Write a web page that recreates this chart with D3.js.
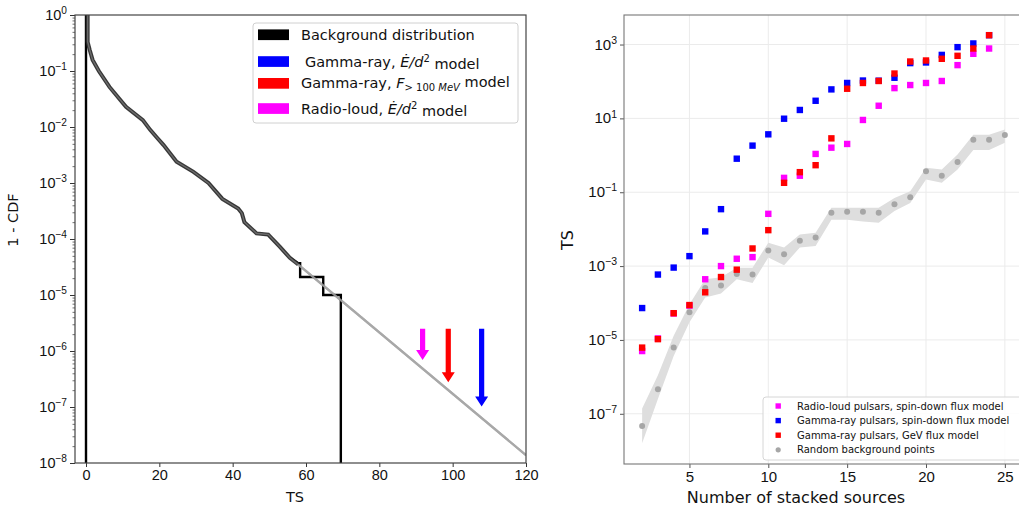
<!DOCTYPE html>
<html>
<head>
<meta charset="utf-8">
<script src="https://cdn.jsdelivr.net/npm/d3@7"></script>
<style>
body{margin:0;background:#fff}
svg{font-family:"DejaVu Sans",sans-serif}
</style>
</head>
<body>
<svg id="chart" width="1019" height="508"></svg>
<script>
// ---- left panel data: 1 - CDF of background TS
var bgTS  = [0, 0.45, 0.45, 1.0, 1.8, 3.5, 6.4, 10.9, 15.5, 17.5, 19.5, 21.1, 24.7, 29.3, 33.4, 37.2, 41.5, 42.5, 43.2, 46.5, 49.7, 52.9, 55.6, 57.9, 58.4, 58.4, 64.7, 64.7, 69.5, 69.5];
var bgVal = [1, 1, 0.33, 0.24, 0.158, 0.1, 0.052, 0.023, 0.0133, 0.0089, 0.0063, 0.0048, 0.0024, 0.00158, 0.001, 0.00052, 0.00035, 0.00029, 0.0002, 0.000126, 0.00012, 7.2e-5, 4.6e-5, 3.7e-5, 3.7e-5, 2.1e-5, 2.1e-5, 1.0e-5, 1.0e-5, 1e-8];
// gray curve / exponential tail
var fitTS  = [0.45, 0.45, 1.0, 1.8, 3.5, 6.4, 10.9, 15.5, 17.5, 19.5, 21.1, 24.7, 29.3, 33.4, 37.2, 41.5, 42.5, 43.2, 46.5, 49.7, 52.9, 55.6, 57.9, 120];
var fitVal = [1, 0.33, 0.24, 0.158, 0.1, 0.052, 0.023, 0.0133, 0.0089, 0.0063, 0.0048, 0.0024, 0.00158, 0.001, 0.00052, 0.00035, 0.00029, 0.0002, 0.000126, 0.00012, 7.2e-5, 4.6e-5, 3.5e-5, 1.38e-8];
var tailStart = 57.9;
// upper-limit arrows
var arrowTS  = [91.8, 98.8, 107.9];
var arrowTop = [2.5e-6, 2.5e-6, 2.5e-6];
var arrowTip = [6.9e-7, 2.76e-7, 1.02e-7];
var arrowCol = ["#ff00ff", "#ff0000", "#0000ff"];
var leftXTicks = [0, 20, 40, 60, 80, 100, 120];
var leftYExp = [0, -1, -2, -3, -4, -5, -6, -7, -8];

// ---- right panel data: TS vs number of stacked sources
var nPuls = [2,3,4,5,6,7,8,9,10,11,12,13,14,15,16,17,18,19,20,21,22,23,24];
var radioSD = [5.0e-6, 1.1e-5, 5.2e-5, 8.5e-5, 4.4e-4, 1.0e-3, 1.58e-3, 1.75e-3, 0.026, 0.245, 0.28, 1.09, 1.61, 2.03, 9.06, 22, 66, 80, 91, 103, 277, 561, 780];
var gammaSD = [7.3e-5, 5.9e-4, 9.1e-4, 1.86e-3, 8.7e-3, 0.0348, 0.81, 1.83, 3.7, 9.8, 16.9, 30, 61, 91, 106, 105, 126, 314, 327, 524, 850, 1070, 1790];
var gammaGeV = [6.2e-6, 1.05e-5, 5.3e-5, 8.8e-5, 1.95e-4, 5.05e-4, 8.0e-4, 3.0e-3, 9.4e-3, 0.18, 0.35, 0.54, 2.88, 63.5, 91, 103, 164, 347, 370, 411, 495, 780, 1795];
var nRand = [2,3,4,5,6,7,8,9,10,11,12,13,14,15,16,17,18,19,20,21,22,23,24,25];
var randTS = [4.7e-8, 4.6e-7, 6.2e-6, 5.6e-5, 2.54e-4, 3.0e-4, 6.1e-4, 5.9e-4, 2.65e-3, 2.1e-3, 4.85e-3, 5.96e-3, 0.0277, 0.0295, 0.0295, 0.0277, 0.0474, 0.073, 0.37, 0.28, 0.66, 2.65, 2.65, 3.56];
var randHi = [1.4e-7, 1.1e-6, 1.3e-5, 9.3e-5, 4.4e-4, 5e-4, 9e-4, 9e-4, 4.3e-3, 3.2e-3, 7.2e-3, 8e-3, 0.038, 0.038, 0.038, 0.038, 0.07, 0.107, 0.46, 0.41, 1.05, 3.6, 3.6, 5.0];
var randLo = [1.6e-8, 2.5e-7, 3.7e-6, 3e-5, 1.4e-4, 1.8e-4, 4.4e-4, 3.5e-4, 1.7e-3, 1.05e-3, 3.2e-3, 3.5e-3, 0.018, 0.018, 0.016, 0.015, 0.031, 0.051, 0.22, 0.18, 0.41, 1.4, 1.4, 2.2];
var rightXTicks = [5, 10, 15, 20, 25];
var rightYExp = [3, 1, -1, -3, -5, -7];

var svg = d3.select("#chart");

function supLabel(sel, exps, fs){
    sel.selectAll("text").each(function(d, i){
        var t = d3.select(this).text("");
        t.append("tspan").text("10").style("font-size", fs + "px");
        t.append("tspan").attr("dy", "-0.55em").style("font-size", (fs*0.7) + "px")
            .text(String(exps[i]).replace("-", "\u2212"));
    });
}

// ================= LEFT PANEL =================
var xL = d3.scaleLinear().domain([-3, 120]).range([75, 526]);
var yL = d3.scaleLog().domain([1e-8, 1]).range([463, 15]);

var minorL = [];
for (var e = -8; e < 0; e++) for (var k = 2; k < 10; k++) minorL.push(k * Math.pow(10, e));

var gL = svg.append("g");
gL.append("defs").append("clipPath").attr("id", "clipL")
  .append("rect").attr("x", 75).attr("y", 15).attr("width", 451).attr("height", 448);
var plotL = gL.append("g").attr("clip-path", "url(#clipL)");

var lineBg = d3.line().x(function(d){return xL(d[0])}).y(function(d){return yL(d[1])});
var fitPts = fitTS.map(function(t, i){return [t, fitVal[i]]});

// light gray extrapolated tail (under the histogram)
plotL.append("path").datum(fitPts.filter(function(d){return d[0] >= tailStart}))
  .attr("d", lineBg).attr("fill", "none").attr("stroke", "#a8a8a8").attr("stroke-width", 2.2);
// black step distribution
plotL.append("path").datum(bgTS.map(function(t, i){return [t, bgVal[i]]}))
  .attr("d", lineBg).attr("fill", "none").attr("stroke", "#000").attr("stroke-width", 2.4);
// vertical edge at TS=0
plotL.append("line").attr("x1", xL(0)).attr("x2", xL(0)).attr("y1", yL(1)).attr("y2", yL(1e-8))
  .attr("stroke", "#000").attr("stroke-width", 2.4);
// gray curve on top of the dense part
plotL.append("path").datum(fitPts.filter(function(d){return d[0] <= tailStart}))
  .attr("d", lineBg).attr("fill", "none").attr("stroke", "#2a2a2a").attr("stroke-width", 4).attr("stroke-opacity", 0.9);
plotL.append("path").datum(fitPts.filter(function(d){return d[0] <= tailStart}))
  .attr("d", lineBg).attr("fill", "none").attr("stroke", "#6a6a6a").attr("stroke-width", 1.6);
// tail continuation over the step histogram
plotL.append("path").datum(fitPts.filter(function(d){return d[0] >= tailStart}))
  .attr("d", lineBg).attr("fill", "none").attr("stroke", "#a8a8a8").attr("stroke-width", 2.2).attr("stroke-opacity", 0.85);

// arrows
arrowTS.forEach(function(t, i){
    var x = xL(t), y0 = yL(arrowTop[i]), y1 = yL(arrowTip[i]);
    var hw = 6.5, hl = 10, sw = 2.6;
    plotL.append("path")
      .attr("d", "M" + (x - sw) + "," + y0 + "L" + (x + sw) + "," + y0 + "L" + (x + sw) + "," + (y1 - hl) +
                 "L" + (x + hw) + "," + (y1 - hl) + "L" + x + "," + y1 + "L" + (x - hw) + "," + (y1 - hl) +
                 "L" + (x - sw) + "," + (y1 - hl) + "Z")
      .attr("fill", arrowCol[i]);
});

// axes
gL.append("g").attr("transform", "translate(0,463)")
  .call(d3.axisBottom(xL).tickValues(leftXTicks).tickSize(4).tickPadding(3).tickSizeOuter(0))
  .call(function(g){ g.select(".domain").remove(); g.selectAll("line").attr("stroke", "#333"); })
  .selectAll("text").style("font-size", "14.5px").attr("fill", "#111");
gL.append("g").attr("transform", "translate(75,0)")
  .call(d3.axisLeft(yL).tickValues(minorL).tickSize(2.5).tickFormat(""))
  .call(function(g){ g.select(".domain").remove(); g.selectAll("line").attr("stroke", "#333").attr("stroke-width", 0.7); });
gL.append("g").attr("transform", "translate(75,0)")
  .call(d3.axisLeft(yL).tickValues(leftYExp.map(function(e){return Math.pow(10, e)})).tickSize(5).tickPadding(3))
  .call(function(g){ g.select(".domain").remove(); g.selectAll("line").attr("stroke", "#333"); g.selectAll("text").attr("fill", "#111").attr("dy", "0.45em"); })
  .call(function(g){ supLabel(g, leftYExp, 14.5); });

gL.append("rect").attr("x", 75).attr("y", 15).attr("width", 451).attr("height", 448)
  .attr("fill", "none").attr("stroke", "#444").attr("stroke-width", 1.2);

gL.append("text").attr("x", xL(57)).attr("y", 502).attr("text-anchor", "middle")
  .style("font-size", "14.5px").attr("fill", "#111").text("TS");
gL.append("text").attr("transform", "translate(18,220) rotate(-90)").attr("text-anchor", "middle")
  .style("font-size", "14.5px").attr("fill", "#111").text("1 - CDF");

// left legend
var legL = gL.append("g");
legL.append("rect").attr("x", 253).attr("y", 23).attr("width", 265).attr("height", 100).attr("rx", 3)
  .attr("fill", "#fff").attr("stroke", "#d0d0d0").attr("stroke-width", 1);
var legRowsY = [34.7, 61.5, 83.3, 108.5];
var legCols = ["#000", "#0000ff", "#ff0000", "#ff00ff"];
legCols.forEach(function(c, i){
    legL.append("rect").attr("x", 258).attr("y", legRowsY[i] - 5.3).attr("width", 31).attr("height", 10.7).attr("fill", c);
});
function legText(y){ return legL.append("text").attr("x", 301).attr("y", y + 5).style("font-size", "14.5px").attr("fill", "#111"); }
legText(legRowsY[0]).text("Background distribution");
var t1 = legText(legRowsY[1]).attr("x", 305);
t1.append("tspan").text("Gamma-ray, ");
t1.append("tspan").style("font-style", "italic").text("\u0116/d");
t1.append("tspan").attr("dy", "-0.5em").style("font-size", "10px").text("2");
t1.append("tspan").attr("dy", "0.5em").text(" model");
var t2 = legText(legRowsY[2]);
t2.append("tspan").text("Gamma-ray, ");
t2.append("tspan").style("font-style", "italic").text("F");
t2.append("tspan").attr("dy", "0.3em").style("font-size", "10px").text("> 100 ");
t2.append("tspan").style("font-size", "10px").style("font-style", "italic").text("MeV");
t2.append("tspan").attr("dy", "-0.3em").text(" model");
var t3 = legText(legRowsY[3]);
t3.append("tspan").text("Radio-loud, ");
t3.append("tspan").style("font-style", "italic").text("\u0116/d");
t3.append("tspan").attr("dy", "-0.5em").style("font-size", "10px").text("2");
t3.append("tspan").attr("dy", "0.5em").text(" model");

// ================= RIGHT PANEL =================
var xR = d3.scaleLinear().domain([0.85, 26.15]).range([624, 1023]);
var yR = d3.scaleLog().domain([Math.pow(10, -8.36), Math.pow(10, 3.80)]).range([464, 15]);

var gR = svg.append("g");
gR.append("defs").append("clipPath").attr("id", "clipR")
  .append("rect").attr("x", 624).attr("y", 15).attr("width", 399).attr("height", 449);
var plotR = gR.append("g").attr("clip-path", "url(#clipR)");

// grid
rightXTicks.forEach(function(v){
    plotR.append("line").attr("x1", xR(v)).attr("x2", xR(v)).attr("y1", 15).attr("y2", 464)
      .attr("stroke", "#ebebeb").attr("stroke-width", 1);
});
rightYExp.forEach(function(e){
    plotR.append("line").attr("x1", 624).attr("x2", 1023).attr("y1", yR(Math.pow(10, e))).attr("y2", yR(Math.pow(10, e)))
      .attr("stroke", "#ebebeb").attr("stroke-width", 1);
});

// band
var band = d3.area().x(function(d, i){return xR(nRand[i])})
  .y0(function(d, i){return yR(randLo[i])}).y1(function(d, i){return yR(randHi[i])});
plotR.append("path").datum(randTS).attr("d", band).attr("fill", "#dedede");

plotR.selectAll("circle.rand").data(randTS).join("circle").attr("class", "rand")
  .attr("cx", function(d, i){return xR(nRand[i])}).attr("cy", function(d){return yR(d)})
  .attr("r", 3).attr("fill", "#a6a6a6");

function squares(vals, col){
    plotR.append("g").selectAll("rect").data(vals).join("rect")
      .attr("x", function(d, i){return xR(nPuls[i]) - 3.2}).attr("y", function(d){return yR(d) - 3.2})
      .attr("width", 6.4).attr("height", 6.4).attr("fill", col);
}
squares(radioSD, "#ff00ff");
squares(gammaSD, "#0000ff");
squares(gammaGeV, "#ff0000");

// axes
gR.append("g").attr("transform", "translate(0,464)")
  .call(d3.axisBottom(xR).tickValues(rightXTicks).tickSize(4).tickPadding(3).tickSizeOuter(0))
  .call(function(g){ g.select(".domain").remove(); g.selectAll("line").attr("stroke", "#555"); })
  .selectAll("text").style("font-size", "15px").attr("fill", "#111");
gR.append("g").attr("transform", "translate(624,0)")
  .call(d3.axisLeft(yR).tickValues(rightYExp.map(function(e){return Math.pow(10, e)})).tickSize(4).tickPadding(3))
  .call(function(g){ g.select(".domain").remove(); g.selectAll("line").attr("stroke", "#555"); g.selectAll("text").attr("fill", "#111").attr("dy", "0.45em"); })
  .call(function(g){ supLabel(g, rightYExp, 15); });

gR.append("rect").attr("x", 624).attr("y", 15).attr("width", 399).attr("height", 449)
  .attr("fill", "none").attr("stroke", "#777").attr("stroke-width", 1.1);

gR.append("text").attr("x", 796).attr("y", 503).attr("text-anchor", "middle")
  .style("font-size", "16px").attr("fill", "#111").text("Number of stacked sources");
gR.append("text").attr("transform", "translate(573,240) rotate(-90)").attr("text-anchor", "middle")
  .style("font-size", "16px").attr("fill", "#111").text("TS");

// right legend
var legR = gR.append("g");
legR.append("rect").attr("x", 763).attr("y", 397).attr("width", 262).attr("height", 63).attr("rx", 3)
  .attr("fill", "#fff").attr("fill-opacity", 0.85).attr("stroke", "#d6d6d6");
var legRNames = ["Radio-loud pulsars, spin-down flux model", "Gamma-ray pulsars, spin-down flux model",
                 "Gamma-ray pulsars, GeV flux model", "Random background points"];
var legRCols = ["#ff00ff", "#0000ff", "#ff0000", "#a6a6a6"];
legRNames.forEach(function(nm, i){
    var y = 406 + i * 14.6;
    if (i < 3) legR.append("rect").attr("x", 775.5).attr("y", y - 2.7).attr("width", 5.4).attr("height", 5.4).attr("fill", legRCols[i]);
    else legR.append("circle").attr("cx", 778.2).attr("cy", y).attr("r", 2.6).attr("fill", legRCols[i]);
    legR.append("text").attr("x", 797).attr("y", y + 3.6).style("font-size", "10px").attr("fill", "#111").text(nm);
});
</script>
</body>
</html>
